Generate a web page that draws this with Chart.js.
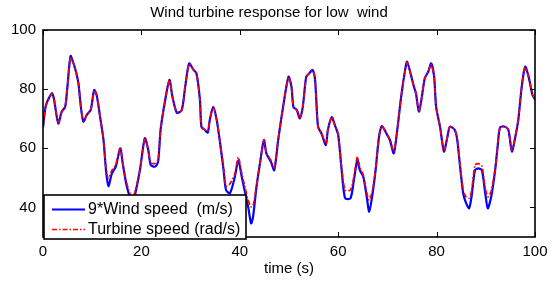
<!DOCTYPE html>
<html>
<head>
<meta charset="utf-8">
<script src="https://cdn.jsdelivr.net/npm/chart.js@4.4.1/dist/chart.umd.min.js"></script>
<style>
  html, body { margin: 0; padding: 0; background: #fff; }
  #wrap { width: 560px; height: 284px; }
</style>
</head>
<body>
<div id="wrap"><canvas id="c" width="560" height="284"></canvas></div>
<script>
const chartTitle = 'Wind turbine response for low  wind';
const xTitle = 'time (s)';
const seriesNames = ['9*Wind speed  (m/s)', 'Turbine speed (rad/s)'];
const xTicks = [0, 20, 40, 60, 80, 100];
const yTicks = [40, 60, 80, 100];

const time = [0,0.6,1.8,2.2,3.1,3.8,4.5,4.9,5.6,6.2,6.7,7.2,7.7,8.2,8.9,9.7,10.4,10.9,11.6,12.3,12.8,13.3,14,14.8,15.7,16.2,16.9,17.5,18.1,18.7,19.7,20.7,21.4,21.9,22.8,23.4,23.9,24.8,25.7,26.3,27.2,28.2,28.9,29.7,30.6,31.2,31.9,32.2,32.9,33.5,33.9,34.6,35.3,36,36.7,37.2,38,39,39.7,40.4,41.1,41.7,42.3,42.7,43.4,44.1,44.9,45.4,46.3,47,47.8,48.8,49.9,50.5,50.9,51.6,52.2,52.8,53.5,54.1,54.8,55.3,55.9,56.6,57.5,57.9,58.7,59.3,60,60.7,61.4,62.5,63.2,63.9,64.4,65.1,65.8,66.3,67,67.6,68.3,68.9,69.8,70.5,71.3,72,72.8,73.6,74,74.7,75.4,75.8,76.4,76.9,77.6,78.3,78.9,79.5,79.9,80.7,81.5,82.2,82.7,83.7,84.2,84.7,85.4,85.9,86.6,87.1,87.8,88.5,89.2,89.8,90.4,91.1,91.9,92.4,92.9,93.9,94.6,95.3,96,96.6,97.3,98,98.7,99.5,100];

const windSpeed9 = [67,74.6,78.6,76.9,68.4,72.4,74,79.7,91.2,88.7,85.9,82,74,69,71.3,73,79.7,78,70.7,62.8,52.6,47.2,51.5,53.8,60,54.9,48.1,44.2,40.5,44.2,52.6,63.4,59.4,54.3,53.8,55.5,66.2,76,83.1,77.5,72,72.9,80.8,88.7,86.5,85.3,76.3,67.3,66.2,65.3,69.6,74,69.6,61.7,52.6,45.9,44.8,50.4,56,50.4,44.8,40.2,34.6,36.9,47,54.9,62.8,58.3,55.5,52.6,62.8,74,84.2,80.8,74,72.9,70.1,74,84.2,85.3,86.5,83.1,67.3,65,61.1,66.2,70.5,67.9,64.5,52.6,43.1,43.1,49.3,56,52.6,50.4,43.6,38.6,44.8,52.6,63.9,67.5,65,62.8,58.3,66.2,77.5,86.5,89.3,85.3,80.8,78.6,72.4,76.3,83.7,85.9,88.7,84.2,74,67.3,58.9,63.9,67.3,66.2,62.8,54.9,44.8,41.9,39.7,43.6,52.6,53.2,52.6,45.9,39.7,43.6,52.6,60.5,67.1,67.3,66.2,58.9,63.9,69.6,80.8,87.6,84.2,78,76.5];

const turbineSpeed = [67,74.4,78.4,76.9,68.8,72.2,74,79.5,90.8,88.7,85.9,82,74,69.3,71.3,73,79.5,78,70.7,62.8,53.5,49.8,52.5,54.5,60.2,55.3,49,45.5,43,45.3,52.8,63.4,59.4,55,54.9,56.2,66.2,76,83,77.5,72.2,72.9,80.8,88.5,86.5,85.3,76.3,67.3,66.2,65.8,69.6,74,69.6,61.9,53.5,47.2,48,51.5,57,51.5,46.5,42.5,40.2,40.5,47.5,55,62.8,58.5,56,53.5,62.8,74,84,80.8,74,72.9,70.3,74,84,85.3,86.3,83.1,67.3,65.2,61.6,66.2,70.5,67.9,64.5,53.5,45.9,45.9,50.5,57.2,53.5,51,45,42.5,46,53,63.9,67.5,65,63,59,66.2,77.5,86.5,89,85.3,80.8,78.6,72.6,76.3,83.7,85.9,88.5,84.2,74,67.3,59.3,63.9,67.3,66.2,63,55.5,45.9,43.8,43.1,45.5,54.3,54.8,54,47.5,43.6,45.5,53,60.5,67.1,67.3,66.2,59.3,63.9,69.6,80.8,87.3,84.2,78,76.5];

const FONT = '"Liberation Sans", Arial, sans-serif';

const framePlugin = {
  id: 'frame',
  afterDraw(chart) {
    const ctx = chart.ctx;
    const a = chart.chartArea;
    const xs = chart.scales.x, ys = chart.scales.y;
    ctx.save();
    ctx.fillStyle = '#000';
    ctx.font = '15px ' + FONT;
    ctx.textAlign = 'center';
    ctx.textBaseline = 'middle';
    ctx.fillText(chartTitle, 269, 13);
    ctx.strokeStyle = '#000';
    ctx.lineWidth = 1;
    const tl = 5;
    xTicks.forEach(v => {
      const px = Math.round(xs.getPixelForValue(v)) + 0.5;
      ctx.beginPath();
      ctx.moveTo(px, a.bottom); ctx.lineTo(px, a.bottom - tl);
      ctx.moveTo(px, a.top); ctx.lineTo(px, a.top + tl);
      ctx.stroke();
    });
    yTicks.forEach(v => {
      const py = Math.round(ys.getPixelForValue(v)) + 0.5;
      ctx.beginPath();
      ctx.moveTo(a.left, py); ctx.lineTo(a.left + tl, py);
      ctx.moveTo(a.right, py); ctx.lineTo(a.right - tl, py);
      ctx.stroke();
    });
    ctx.lineWidth = 1.6;
    ctx.strokeRect(a.left, a.top, a.right - a.left, a.bottom - a.top);

    const lx = 44, ly = 195, lw = 202, lh = 44;
    ctx.fillStyle = '#fff';
    ctx.fillRect(lx, ly, lw, lh);
    ctx.lineWidth = 1.6;
    ctx.strokeStyle = '#000';
    ctx.strokeRect(lx, ly, lw, lh);
    const ds = chart.data.datasets;
    const rows = [209.5, 229.5];
    ctx.font = '16px ' + FONT;
    ctx.textAlign = 'left';
    ctx.textBaseline = 'middle';
    ds.forEach((d, i) => {
      ctx.save();
      ctx.strokeStyle = d.borderColor;
      ctx.lineWidth = d.borderWidth;
      ctx.setLineDash(d.borderDash || []);
      ctx.beginPath();
      ctx.moveTo(52, rows[i]); ctx.lineTo(85, rows[i]);
      ctx.stroke();
      ctx.restore();
      ctx.fillStyle = '#000';
      ctx.fillText(d.label, 88, rows[i] + 0.5);
    });
    ctx.restore();
  }
};

const ctx = document.getElementById('c').getContext('2d');
new Chart(ctx, {
  type: 'line',
  data: {
    datasets: [
      {
        label: seriesNames[0],
        data: time.map((t, i) => ({ x: t, y: windSpeed9[i] })),
        borderColor: '#0000ff',
        borderWidth: 2.2,
        pointRadius: 0,
        tension: 0.25,
        fill: false,
        order: 2
      },
      {
        label: seriesNames[1],
        data: time.map((t, i) => ({ x: t, y: turbineSpeed[i] })),
        borderColor: '#ff0000',
        borderWidth: 1.7,
        borderDash: [5, 2, 1.5, 2],
        pointRadius: 0,
        tension: 0.25,
        fill: false,
        order: 1
      }
    ]
  },
  options: {
    responsive: false,
    animation: false,
    devicePixelRatio: 1,
    layout: { padding: { left: 0, right: 25, top: 30, bottom: 0 } },
    plugins: { legend: { display: false }, title: { display: false }, tooltip: { enabled: false } },
    scales: {
      x: {
        type: 'linear',
        min: 0, max: 100,
        afterBuildTicks: s => { s.ticks = xTicks.map(v => ({ value: v })); },
        afterFit: s => { s.height = 47; },
        grid: { display: false, drawTicks: false },
        border: { display: false },
        ticks: { color: '#000', font: { family: FONT, size: 15 }, padding: 6, maxRotation: 0, autoSkip: false },
        title: { display: true, text: xTitle, color: '#000', font: { family: FONT, size: 15 }, padding: { top: 2, bottom: 6 } }
      },
      y: {
        type: 'linear',
        min: 30, max: 100,
        afterBuildTicks: s => { s.ticks = yTicks.map(v => ({ value: v })); },
        afterFit: s => { s.width = 43; },
        grid: { display: false, drawTicks: false },
        border: { display: false },
        ticks: { color: '#000', font: { family: FONT, size: 15 }, padding: 7, autoSkip: false }
      }
    }
  },
  plugins: [framePlugin]
});
</script>
</body>
</html>
